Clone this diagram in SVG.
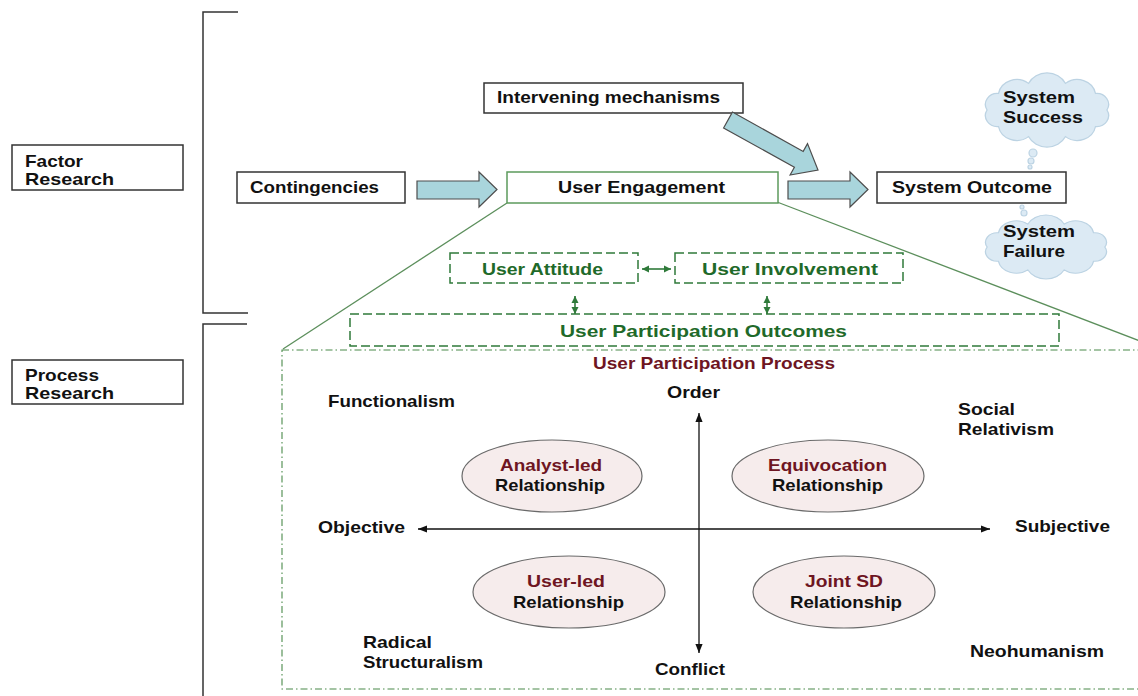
<svg xmlns="http://www.w3.org/2000/svg" width="1138" height="696" viewBox="0 0 1138 696">
<style>
text{font-family:"Liberation Sans",Arial,sans-serif;font-weight:bold;font-size:17px;fill:#111}
.box{fill:#fff;stroke:#333;stroke-width:1.5}
.blk{fill:#a9d5dc;stroke:#4d4d4d;stroke-width:1.2}
.dash{fill:#fff;stroke:#2f7a3a;stroke-width:1.5;stroke-dasharray:9,4}
.g{fill:#1f6a2a}
.red{fill:#6e1522}
.cloud{fill:#dceaf4;stroke:#bcd3e3;stroke-width:1.2}
.ell{fill:#f6ecec;stroke:#6a6a6a;stroke-width:1.2}
.br{fill:none;stroke:#333;stroke-width:1.5}
.gl{fill:none;stroke:#5c8f5c;stroke-width:1.3}
.ga{stroke:#2f7a3a;stroke-width:1.6}
.ax{stroke:#111;stroke-width:1.3}
</style>
<defs>
<marker id="gm" viewBox="0 0 10 10" refX="10" refY="5" markerWidth="4.5" markerHeight="5" orient="auto-start-reverse"><path d="M0,0 L10,5 L0,10 z" fill="#2f7a3a"/></marker>
<marker id="km" viewBox="0 0 10 8" refX="10" refY="4" markerWidth="7" markerHeight="5.6" orient="auto-start-reverse"><path d="M0,0 L10,4 L0,8 z" fill="#111"/></marker>
<path id="cl" d="M55,0 A11,11 0 0 1 44.5,16.5 A17,17 0 0 1 17,26.6 A19,19 0 0 1 -17,26.6 A17,17 0 0 1 -44.5,16.5 A11,11 0 0 1 -55,0 A11,11 0 0 1 -44.5,-16.5 A17,17 0 0 1 -17,-26.6 A19,19 0 0 1 17,-26.6 A17,17 0 0 1 44.5,-16.5 A11,11 0 0 1 55,0 Z"/>
</defs>

<g id="brackets">
<path class="br" d="M238,12 H203 V313 H248"/>
<path class="br" d="M247,324 H203 V700"/>
</g>

<g id="zoom-lines">
<line class="gl" x1="507" y1="203" x2="283" y2="349"/>
<line class="gl" x1="777" y1="202" x2="1140" y2="341"/>
</g>

<g id="process-frame">
<rect x="282" y="350" width="880" height="339" fill="#fff" stroke="#4a8a4a" stroke-width="1.1" stroke-dasharray="7,3,1.5,3"/>
<text x="593" y="369" textLength="242" lengthAdjust="spacingAndGlyphs" class="red">User Participation Process</text>
</g>

<g id="factor-research">
<rect class="box" x="12" y="145" width="171" height="45"/>
<text x="25" y="167" textLength="58" lengthAdjust="spacingAndGlyphs">Factor</text>
<text x="25" y="185" textLength="89" lengthAdjust="spacingAndGlyphs">Research</text>
</g>
<g id="process-research">
<rect class="box" x="12" y="360" width="171" height="44"/>
<text x="25" y="381" textLength="74" lengthAdjust="spacingAndGlyphs">Process</text>
<text x="25" y="399" textLength="89" lengthAdjust="spacingAndGlyphs">Research</text>
</g>

<g id="contingencies">
<rect class="box" x="237" y="172" width="168" height="31"/>
<text x="250" y="193" textLength="129" lengthAdjust="spacingAndGlyphs">Contingencies</text>
</g>
<g id="intervening">
<rect class="box" x="484" y="83" width="259" height="30"/>
<text x="497" y="103" textLength="223" lengthAdjust="spacingAndGlyphs">Intervening mechanisms</text>
</g>
<g id="user-engagement">
<rect x="507" y="172" width="271" height="31" fill="#fff" stroke="#5c9a5c" stroke-width="1.5"/>
<text x="558" y="193" textLength="167" lengthAdjust="spacingAndGlyphs">User Engagement</text>
</g>
<g id="system-outcome">
<rect class="box" x="877" y="172" width="189" height="31"/>
<text x="892" y="193" textLength="160" lengthAdjust="spacingAndGlyphs">System Outcome</text>
</g>

<g id="connectors">
<polygon class="blk" points="417,181 479,181 479,172 497,189.5 479,207 479,199 417,199"/>
<polygon class="blk" points="788,181 850,181 850,172 868,189.5 850,207 850,199 788,199"/>
<polygon class="blk" points="732.4,112.1 803.2,151.4 807.5,143.6 818,170 790.1,175 794.4,167.2 723.6,127.9"/>
<line class="ga" x1="642" y1="269" x2="671" y2="269" marker-start="url(#gm)" marker-end="url(#gm)"/>
<line class="ga" x1="575" y1="296" x2="575" y2="314" marker-start="url(#gm)" marker-end="url(#gm)"/>
<line class="ga" x1="767" y1="296" x2="767" y2="314" marker-start="url(#gm)" marker-end="url(#gm)"/>
<line class="ax" x1="699" y1="653" x2="699" y2="413" marker-start="url(#km)" marker-end="url(#km)"/>
<line class="ax" x1="418" y1="529" x2="990" y2="529" marker-start="url(#km)" marker-end="url(#km)"/>
</g>

<g id="system-success">
<use href="#cl" class="cloud" transform="translate(1047,110) scale(1.09,1)"/>
<circle class="cloud" cx="1033" cy="153" r="4"/>
<circle class="cloud" cx="1031" cy="161" r="3"/>
<circle class="cloud" cx="1030" cy="167" r="2"/>
<text x="1003" y="103" textLength="72" lengthAdjust="spacingAndGlyphs">System</text>
<text x="1003" y="123" textLength="80" lengthAdjust="spacingAndGlyphs">Success</text>
</g>
<g id="system-failure">
<use href="#cl" class="cloud" transform="translate(1046,247) scale(1.07,0.86)"/>
<circle class="cloud" cx="1022" cy="207" r="2"/>
<circle class="cloud" cx="1024" cy="213" r="3"/>
<text x="1003" y="237" textLength="72" lengthAdjust="spacingAndGlyphs">System</text>
<text x="1003" y="257" textLength="62" lengthAdjust="spacingAndGlyphs">Failure</text>
</g>

<g id="user-attitude">
<rect class="dash" x="450" y="253" width="188" height="30"/>
<text x="482" y="275" textLength="121" lengthAdjust="spacingAndGlyphs" class="g">User Attitude</text>
</g>
<g id="user-involvement">
<rect class="dash" x="675" y="253" width="228" height="30"/>
<text x="702" y="275" textLength="176" lengthAdjust="spacingAndGlyphs" class="g">User Involvement</text>
</g>
<g id="participation-outcomes">
<rect class="dash" x="350" y="314" width="709" height="32"/>
<text x="560" y="337" textLength="287" lengthAdjust="spacingAndGlyphs" class="g">User Participation Outcomes</text>
</g>

<g id="axis-labels">
<text x="667" y="398" textLength="53" lengthAdjust="spacingAndGlyphs">Order</text>
<text x="655" y="675" textLength="70" lengthAdjust="spacingAndGlyphs">Conflict</text>
<text x="318" y="533" textLength="87" lengthAdjust="spacingAndGlyphs">Objective</text>
<text x="1015" y="532" textLength="95" lengthAdjust="spacingAndGlyphs">Subjective</text>
</g>
<g id="paradigms">
<text x="328" y="407" textLength="127" lengthAdjust="spacingAndGlyphs">Functionalism</text>
<text x="958" y="415" textLength="57" lengthAdjust="spacingAndGlyphs">Social</text>
<text x="958" y="435" textLength="96" lengthAdjust="spacingAndGlyphs">Relativism</text>
<text x="363" y="648" textLength="69" lengthAdjust="spacingAndGlyphs">Radical</text>
<text x="363" y="668" textLength="120" lengthAdjust="spacingAndGlyphs">Structuralism</text>
<text x="970" y="657" textLength="134" lengthAdjust="spacingAndGlyphs">Neohumanism</text>
</g>

<g id="analyst-led">
<ellipse class="ell" cx="552" cy="476" rx="90" ry="36"/>
<text x="500" y="471" textLength="102" lengthAdjust="spacingAndGlyphs" class="red">Analyst-led</text>
<text x="495" y="491" textLength="110" lengthAdjust="spacingAndGlyphs">Relationship</text>
</g>
<g id="equivocation">
<ellipse class="ell" cx="828" cy="476" rx="96" ry="36"/>
<text x="768" y="471" textLength="119" lengthAdjust="spacingAndGlyphs" class="red">Equivocation</text>
<text x="772" y="491" textLength="111" lengthAdjust="spacingAndGlyphs">Relationship</text>
</g>
<g id="user-led">
<ellipse class="ell" cx="569" cy="592" rx="96" ry="36"/>
<text x="527" y="587" textLength="78" lengthAdjust="spacingAndGlyphs" class="red">User-led</text>
<text x="513" y="608" textLength="111" lengthAdjust="spacingAndGlyphs">Relationship</text>
</g>
<g id="joint-sd">
<ellipse class="ell" cx="844" cy="592" rx="91" ry="36"/>
<text x="805" y="587" textLength="78" lengthAdjust="spacingAndGlyphs" class="red">Joint SD</text>
<text x="790" y="608" textLength="112" lengthAdjust="spacingAndGlyphs">Relationship</text>
</g>
</svg>
